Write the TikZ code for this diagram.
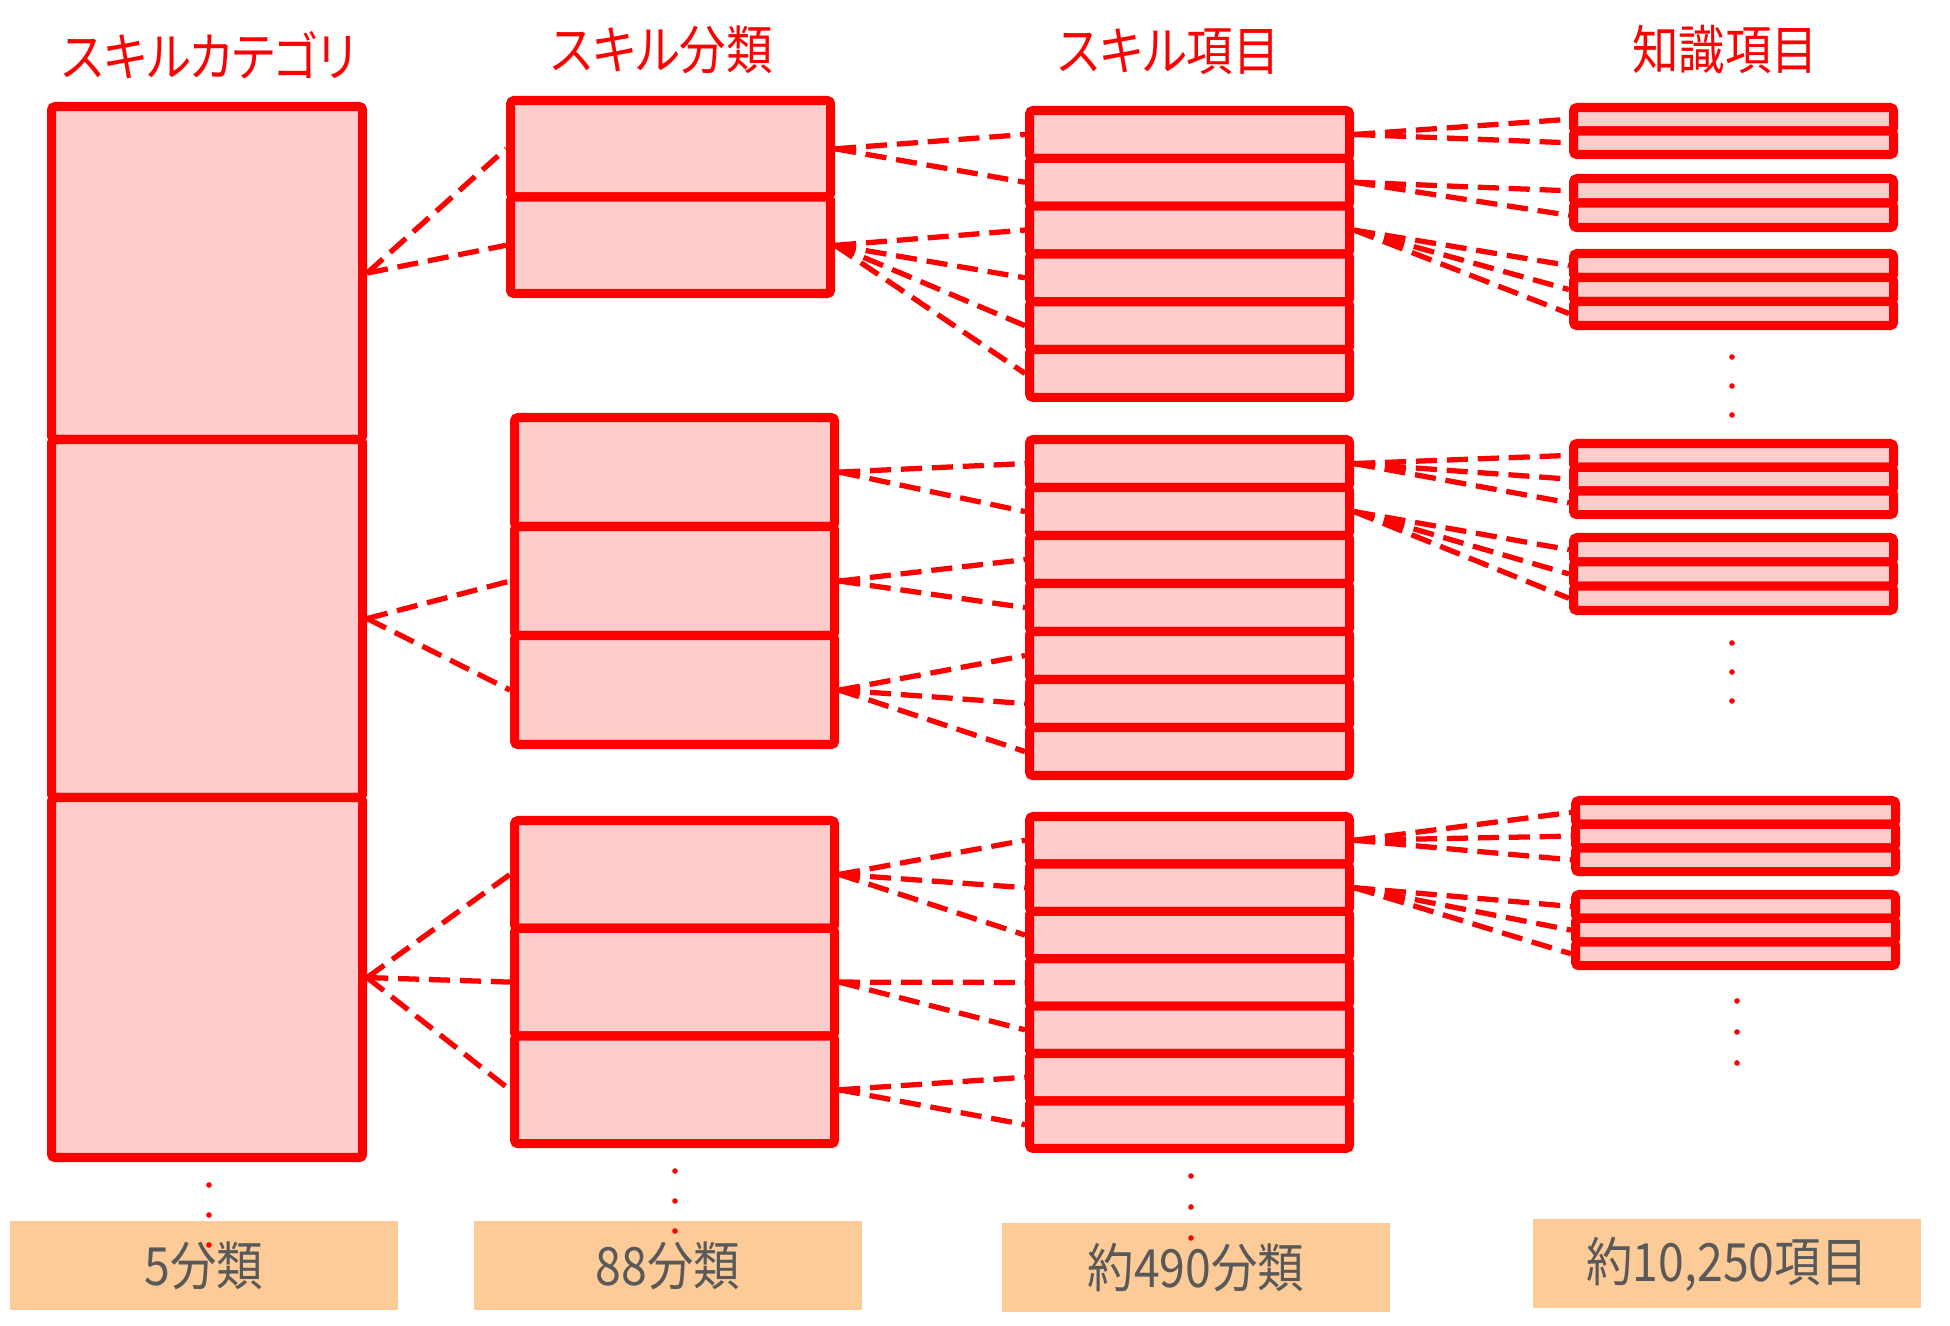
\documentclass[tikz,border=0pt]{standalone}
\usepackage{fontspec}
\newfontfamily\jpfont[RawFeature=+palt,FakeStretch=0.88]{Noto Sans CJK JP}
\definecolor{skred}{HTML}{FF0000}
\definecolor{skpink}{HTML}{FFCCCC}
\definecolor{skpeach}{HTML}{FCCB98}
\definecolor{skgray}{HTML}{595959}

\begin{document}
\begin{tikzpicture}[x=1cm,y=-1cm,
  cell/.style={draw=skred,fill=skpink,line width=2.6pt,inner sep=0pt,anchor=north west,rounded corners=1pt},
  link/.style={skred,line width=1.5pt,dash pattern=on 6pt off 2.8pt},
  head/.style={text=skred,font=\jpfont\fontsize{15}{18}\selectfont},
  total/.style={fill=skpeach,minimum width=3.88cm,minimum height=0.89cm,text=skgray,font=\jpfont\fontsize{15}{18}\selectfont}]
 \useasboundingbox (0,0) rectangle (19.5,13.26);
 % headings
 \node[head] (hcat) at (2.09,0.55) {スキルカテゴリ};
 \node[head] (hbun) at (6.62,0.50) {スキル分類};
 \node[head] (hkom) at (11.69,0.52) {スキル項目};
 \node[head] (hchi) at (17.25,0.50) {知識項目};
 % skill categories
 \node[cell,minimum width=3.11cm,minimum height=3.33cm] (cat1) at (0.47,1.02) {};
 \node[cell,minimum width=3.11cm,minimum height=3.58cm] (cat2) at (0.47,4.35) {};
 \node[cell,minimum width=3.11cm,minimum height=3.60cm] (cat3) at (0.47,7.93) {};
 % stacks: name/x/top/row height/rows
 \foreach \n/\x/\y/\h/\k in {bunA/5.06/0.96/0.965/2, bunB/5.10/4.13/1.09/3, bunC/5.10/8.16/1.077/3,
   komA/10.25/1.06/0.478/6, komB/10.25/4.35/0.48/7, komC/10.25/8.12/0.474/7,
   chiA/15.69/1.03/0.235/2, chiB/15.69/1.74/0.245/2, chiC/15.69/2.49/0.24/3,
   chiD/15.69/4.39/0.237/3, chiE/15.69/5.33/0.243/3, chiF/15.71/7.96/0.237/3, chiG/15.71/8.90/0.237/3}
   \foreach \r in {1,...,\k}
     \node[cell,minimum width=3.2cm,minimum height=\h cm] (\n\r) at (\x,{\y+(\r-1)*\h}) {};
 % dashed links
 \foreach \s/\t in {cat1/bunA1,cat1/bunA2,cat2/bunB2,cat2/bunB3,cat3/bunC1,cat3/bunC2,cat3/bunC3,
   bunA1/komA1,bunA1/komA2,bunA2/komA3,bunA2/komA4,bunA2/komA5,bunA2/komA6,
   bunB1/komB1,bunB1/komB2,bunB2/komB3,bunB2/komB4,bunB3/komB5,bunB3/komB6,bunB3/komB7,
   bunC1/komC1,bunC1/komC2,bunC1/komC3,bunC2/komC4,bunC2/komC5,bunC3/komC6,bunC3/komC7,
   komA1/chiA1,komA1/chiA2,komA2/chiB1,komA2/chiB2,komA3/chiC1,komA3/chiC2,komA3/chiC3,
   komB1/chiD1,komB1/chiD2,komB1/chiD3,komB2/chiE1,komB2/chiE2,komB2/chiE3,
   komC1/chiF1,komC1/chiF2,komC1/chiF3,komC2/chiG1,komC2/chiG2,komC2/chiG3}
   \draw[link] (\s.east) -- (\t.west);
 % totals
 \node[total] (sum1) at (2.04,12.66) {5分類};
 \node[total] (sum2) at (6.68,12.66) {88分類};
 \node[total] (sum3) at (11.96,12.68) {約490分類};
 \node[total] (sum4) at (17.27,12.64) {約10,250項目};
 % vertical ellipses
 \foreach \x/\y/\d in {2.09/11.85/0.30, 6.75/11.71/0.30, 11.91/11.76/0.31,
   17.32/3.57/0.29, 17.32/6.43/0.29, 17.37/10.01/0.31}
   \foreach \j in {0,1,2}
     \fill[skred] (\x,{\y+\j*\d}) circle (0.028);
\end{tikzpicture}
\end{document}
